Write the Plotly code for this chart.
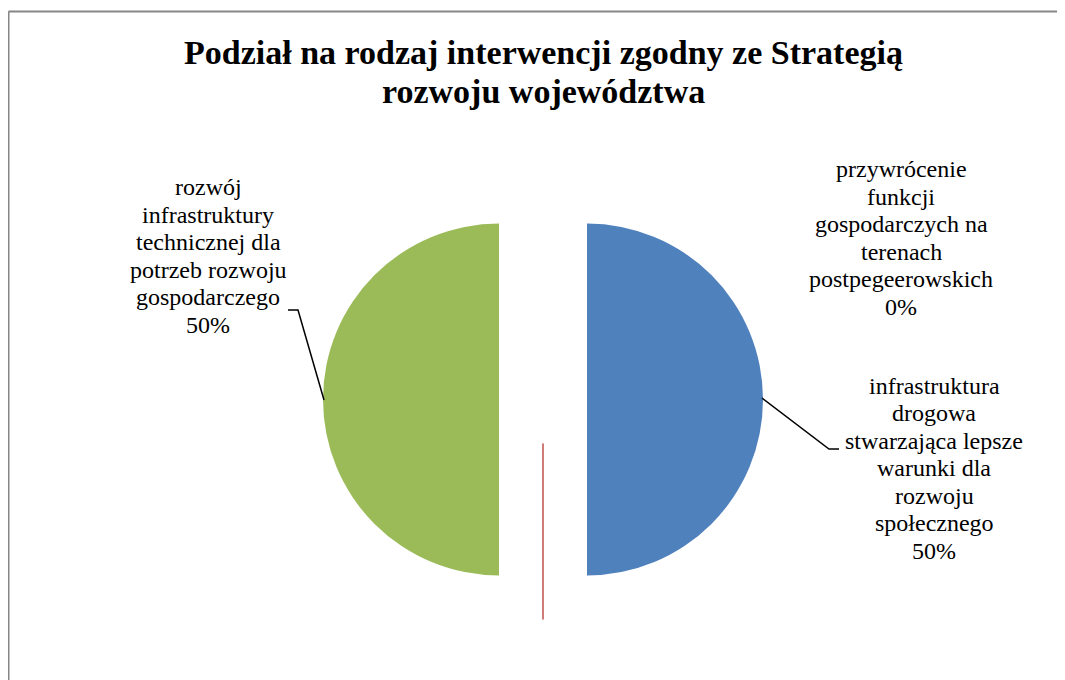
import plotly.graph_objects as go

W, H = 1065, 680
PAGE_OFF = 8  # default body margin of the written html page

title_lines = ["Podział na rodzaj interwencji zgodny ze Strategią", "rozwoju województwa"]
categories = [
    "infrastruktura drogowa stwarzająca lepsze warunki dla rozwoju społecznego",
    "przywrócenie funkcji gospodarczych na terenach postpegeerowskich",
    "rozwój infrastruktury technicznej dla potrzeb rozwoju gospodarczego",
]
wrapped = [
    ["infrastruktura", "drogowa", "stwarzająca lepsze", "warunki dla", "rozwoju", "społecznego"],
    ["przywrócenie", "funkcji", "gospodarczych na", "terenach", "postpegeerowskich"],
    ["rozwój", "infrastruktury", "technicznej dla", "potrzeb rozwoju", "gospodarczego"],
]
values = [1, 0, 1]
colors = ["#4F81BD", "#C0504D", "#9BBB59"]

total = sum(values)
pct = [f"{round(100 * v / total)}%" for v in values]


def px(x):
    return (x - PAGE_OFF) / W


def py(y):
    return 1 - (y - PAGE_OFF) / H


SERIF = "Liberation Serif"

# pie geometry (page pixels): centre, outer extent incl. pull
cx, cy, ext = 543, 399.5, 220

fig = go.Figure(
    go.Pie(
        labels=categories,
        values=values,
        sort=False,
        direction="clockwise",
        rotation=0,
        pull=[0.25, 0.25, 0.25],
        textinfo="none",
        hoverinfo="label+percent",
        marker=dict(
            colors=colors,
            line=dict(color=["rgba(0,0,0,0)", "#C0504D", "rgba(0,0,0,0)"], width=[0, 1, 0]),
        ),
        domain=dict(x=[px(cx - ext), px(cx + ext)], y=[py(cy + ext), py(cy - ext)]),
        showlegend=False,
    )
)

annotations = []

# data labels: one annotation per line to match the tighter line spacing
label_pos = [(934, 468), (901, 238), (208, 256)]
LS = 27.5
for (lx, ly), lines, p in zip(label_pos, wrapped, pct):
    all_lines = lines + [p]
    n = len(all_lines)
    for i, ln in enumerate(all_lines):
        yy = ly + (i - (n - 1) / 2) * LS
        annotations.append(
            dict(
                x=px(lx), y=py(yy), xref="paper", yref="paper",
                text=ln, showarrow=False,
                font=dict(family=SERIF, size=24, color="black"),
                xanchor="center", yanchor="middle", align="center",
            )
        )

# title
for ln, yy in zip(title_lines, [52.8, 91.8]):
    annotations.append(
        dict(
            x=px(543.5), y=py(yy), xref="paper", yref="paper",
            text=f"<b>{ln}</b>", showarrow=False,
            xanchor="center", yanchor="middle", align="center",
            font=dict(family=SERIF, size=34, color="black"),
        )
    )

shapes = [
    # chart border (top and left visible)
    dict(type="line", xref="paper", yref="paper", x0=px(8.5), y0=py(11.5), x1=px(1080), y1=py(11.5),
         line=dict(color="#868686", width=2)),
    dict(type="line", xref="paper", yref="paper", x0=px(8.5), y0=py(11.5), x1=px(8.5), y1=py(700),
         line=dict(color="#868686", width=2)),
    # leader lines
    dict(type="path", xref="paper", yref="paper",
         path=f"M {px(762)} {py(398)} L {px(829)} {py(449)} L {px(839)} {py(449)}",
         line=dict(color="black", width=1.5)),
    dict(type="path", xref="paper", yref="paper",
         path=f"M {px(288)} {py(310)} L {px(298)} {py(310)} L {px(324)} {py(400)}",
         line=dict(color="black", width=1.5)),
]

fig.update_layout(
    width=W, height=H, autosize=False,
    margin=dict(l=0, r=0, t=0, b=0),
    paper_bgcolor="white", plot_bgcolor="white",
    font=dict(family=SERIF, color="black"),
    annotations=annotations,
    shapes=shapes,
)

fig.write_html("out.html")
